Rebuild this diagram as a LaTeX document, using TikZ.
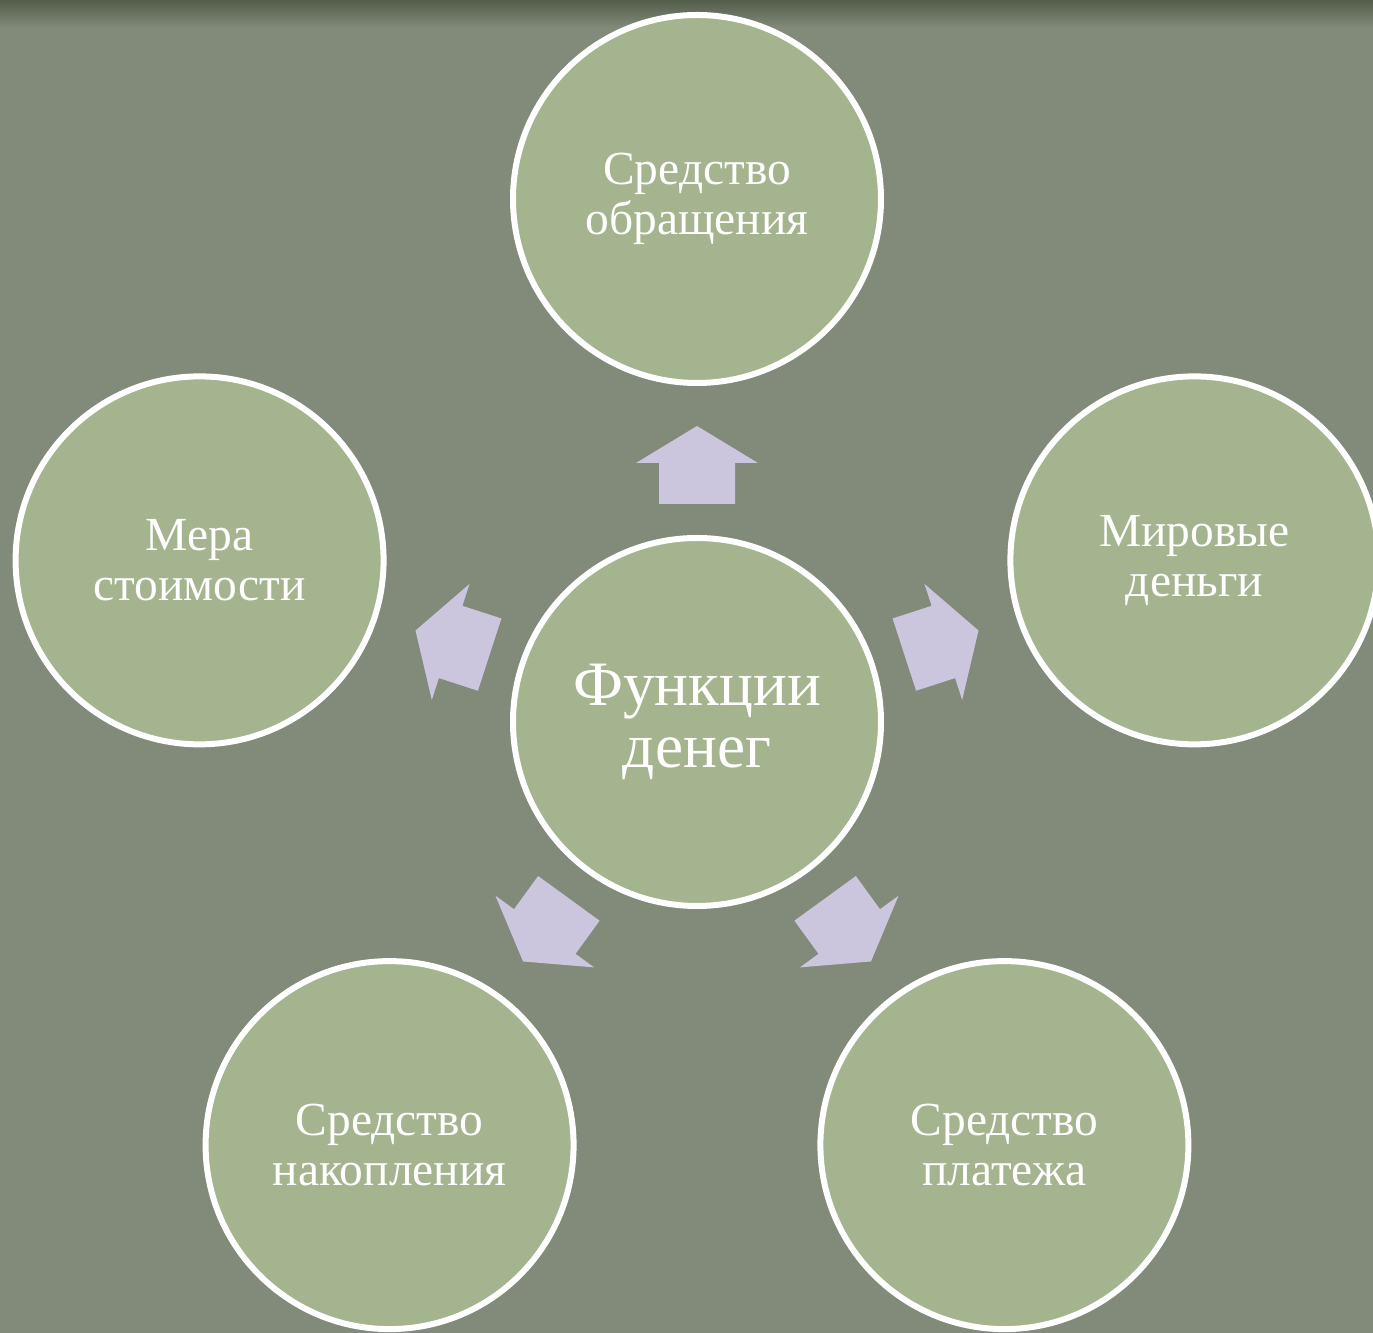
\documentclass[tikz,border=0pt]{standalone}
\usepackage{fontspec}
\setmainfont{Liberation Serif}
\usepackage{tikz}
\usetikzlibrary{calc}

\definecolor{slidebg}{RGB}{130,138,121}
\definecolor{slidetop}{RGB}{84,92,74}
\definecolor{discfill}{RGB}{164,180,142}
\definecolor{arrowfill}{RGB}{204,197,222}

\tikzset{
  func/.style={circle, draw=white, line width=0.06cm, fill=discfill,
    minimum size=3.68cm, inner sep=0pt, align=center, text=white,
    font=\fontsize{13.5}{14.2}\selectfont},
  funcmain/.style={func, font=\fontsize{18}{17.5}\selectfont},
  funcarrow/.pic={
    \fill[arrowfill] (0,-0.38) -- (0.41,-0.38) -- (0.41,-0.61) -- (0.78,0)
      -- (0.41,0.61) -- (0.41,0.38) -- (0,0.38) -- cycle;
  }
}

\begin{document}
\begin{tikzpicture}
        \useasboundingbox (0,0) rectangle (13.73,13.33);
        \fill[slidebg] (0,0) rectangle (13.73,13.33);
        \shade[top color=slidetop, bottom color=slidebg] (0,13.05) rectangle (13.73,13.33);

        \node[funcmain] (money) at (6.97,6.11) {Функции\\денег};

        \node[func] (circulation) at ($(money)+(90:5.23)$) {Средство\\обращения};
        \node[func] (measure) at ($(money)+(162:5.23)$) {Мера\\стоимости};
        \node[func] (hoard) at ($(money)+(234:5.23)$) {Средство\\накопления};
        \node[func] (payment) at ($(money)+(306:5.23)$) {Средство\\платежа};
        \node[func] (world) at ($(money)+(18:5.23)$) {Мировые\\деньги};

        \path (money.center) ++(90:2.18) pic[rotate=90] {funcarrow};
        \path (money.center) ++(162:2.18) pic[rotate=162] {funcarrow};
        \path (money.center) ++(234:2.18) pic[rotate=234] {funcarrow};
        \path (money.center) ++(306:2.18) pic[rotate=306] {funcarrow};
        \path (money.center) ++(18:2.18) pic[rotate=18] {funcarrow};
    \end{tikzpicture}
\end{document}
